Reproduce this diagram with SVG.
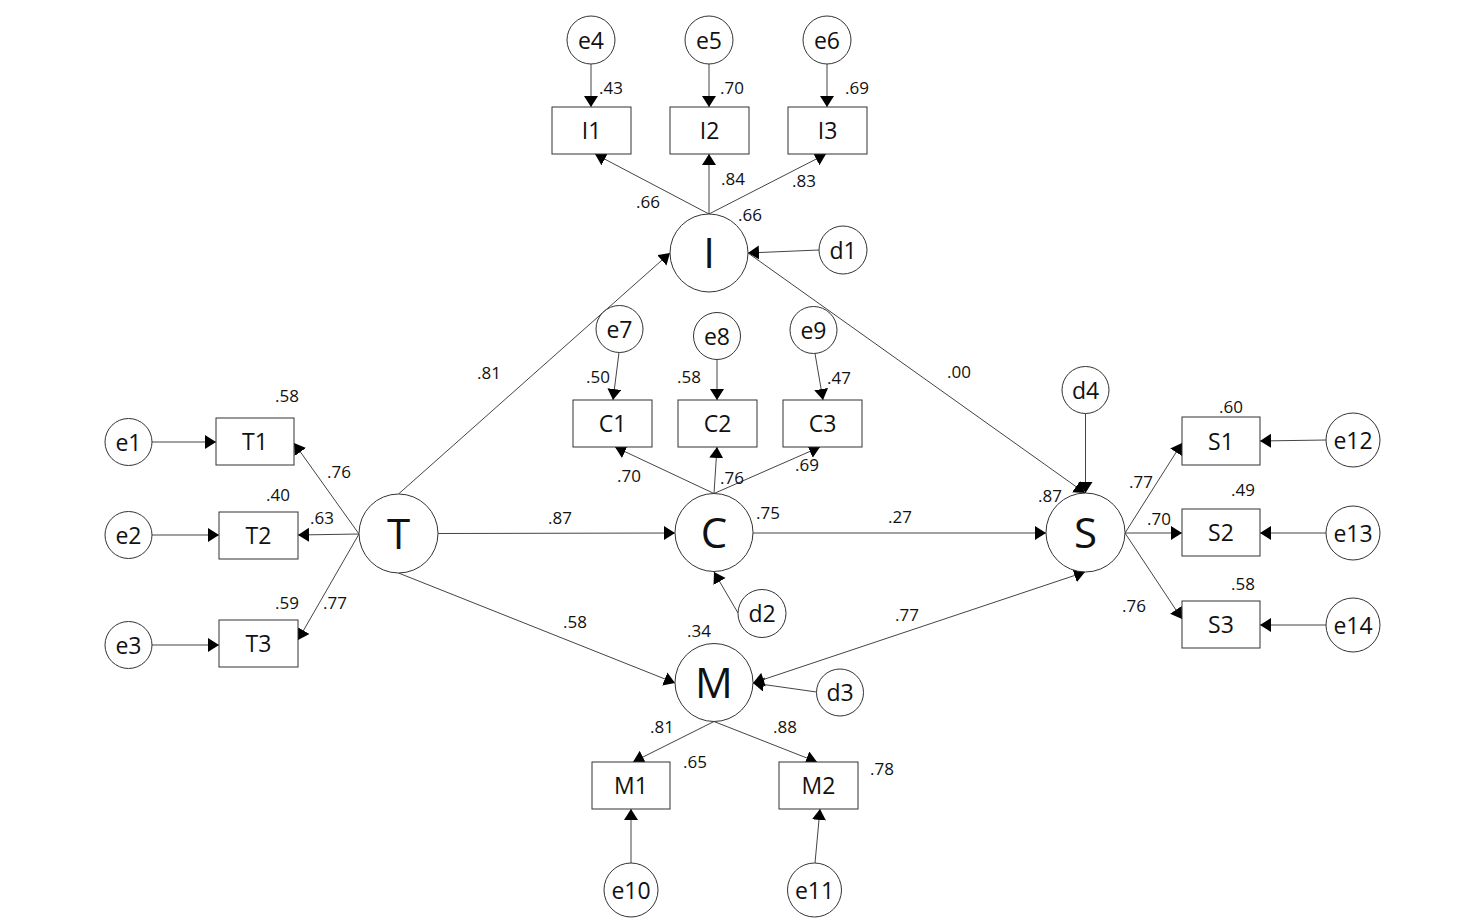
<svg xmlns="http://www.w3.org/2000/svg" width="1462" height="924" viewBox="0 0 1462 924">
<style>
.n circle,.n rect{fill:#fff;stroke:#333;stroke-width:1}
.n text{font-family:"Open Sans","Noto Sans",sans-serif;font-size:23px;fill:#111;text-anchor:middle}
.n text.big{font-size:42px}
#connectors line{stroke:#444;stroke-width:1;fill:none}
.lb{font-family:"Open Sans","Noto Sans",sans-serif;font-size:17px;fill:#111}
</style>
<defs>
<marker id="ah" markerUnits="userSpaceOnUse" markerWidth="12" markerHeight="15" refX="11" refY="7" orient="auto">
<path d="M0,0 L11,7 L0,14 z" fill="#000"/>
</marker>
<marker id="as" markerUnits="userSpaceOnUse" markerWidth="12" markerHeight="15" refX="0" refY="7" orient="auto">
<path d="M11,0 L0,7 L11,14 z" fill="#000"/>
</marker>
</defs>
<rect width="1462" height="924" fill="#fff"/>
<g id="connectors" marker-end="url(#ah)">
<line x1="591" y1="64" x2="591" y2="107"/>
<line x1="709" y1="64" x2="709" y2="107"/>
<line x1="827" y1="64" x2="827" y2="107"/>
<line x1="709" y1="214" x2="595" y2="154"/>
<line x1="709" y1="214" x2="709" y2="154"/>
<line x1="709" y1="214" x2="826" y2="154"/>
<line x1="819" y1="250" x2="748" y2="253"/>
<line x1="398.5" y1="494" x2="670" y2="253"/>
<line x1="748" y1="253" x2="1085" y2="493"/>
<line x1="619" y1="352.5" x2="613" y2="400"/>
<line x1="717" y1="359.5" x2="717" y2="400"/>
<line x1="815" y1="353.5" x2="823" y2="400"/>
<line x1="714" y1="493.5" x2="615" y2="447"/>
<line x1="714" y1="493.5" x2="717" y2="447"/>
<line x1="714" y1="493.5" x2="820" y2="447"/>
<line x1="738" y1="613" x2="714" y2="572"/>
<line x1="438" y1="533.5" x2="675" y2="533"/>
<line x1="753" y1="533" x2="1046" y2="533"/>
<line x1="398.5" y1="573" x2="675" y2="683"/>
<line x1="816.5" y1="692" x2="753" y2="683"/>
<line x1="753" y1="683" x2="1085" y2="572" marker-start="url(#as)"/>
<line x1="1085.5" y1="413.5" x2="1085.5" y2="493"/>
<line x1="359" y1="534" x2="294" y2="443"/>
<line x1="359" y1="534" x2="298" y2="535"/>
<line x1="359" y1="534" x2="298" y2="640"/>
<line x1="152" y1="442" x2="216" y2="442"/>
<line x1="152" y1="535" x2="219" y2="535"/>
<line x1="152" y1="645" x2="219" y2="645"/>
<line x1="1125" y1="533" x2="1182" y2="443"/>
<line x1="1125" y1="533" x2="1182" y2="533"/>
<line x1="1125" y1="533" x2="1182" y2="619"/>
<line x1="1326" y1="440" x2="1260" y2="441"/>
<line x1="1326" y1="533" x2="1260" y2="533"/>
<line x1="1326" y1="625" x2="1260" y2="625"/>
<line x1="714" y1="721.5" x2="633" y2="762"/>
<line x1="714" y1="721.5" x2="817" y2="762"/>
<line x1="631" y1="863" x2="631" y2="809"/>
<line x1="815" y1="863" x2="820" y2="809"/>
</g>
<g class="n" id="e4"><circle cx="591" cy="40" r="24"/><text x="591" y="48.5">e4</text></g>
<g class="n" id="e5"><circle cx="709" cy="40" r="24"/><text x="709" y="48.5">e5</text></g>
<g class="n" id="e6"><circle cx="827" cy="40" r="24"/><text x="827" y="48.5">e6</text></g>
<g class="n" id="I1"><rect x="552" y="107" width="79" height="47"/><text x="591.5" y="139">I1</text></g>
<g class="n" id="I2"><rect x="670" y="107" width="79" height="47"/><text x="709.5" y="139">I2</text></g>
<g class="n" id="I3"><rect x="788" y="107" width="79" height="47"/><text x="827.5" y="139">I3</text></g>
<g class="n" id="I"><circle cx="709" cy="253" r="39"/><text class="big" x="709" y="268">I</text></g>
<g class="n" id="d1"><circle cx="843" cy="250" r="24"/><text x="843" y="258.5">d1</text></g>
<g class="n" id="e7"><circle cx="619.5" cy="329" r="23.5"/><text x="619.5" y="337.5">e7</text></g>
<g class="n" id="e8"><circle cx="717" cy="336" r="23.5"/><text x="717" y="344.5">e8</text></g>
<g class="n" id="e9"><circle cx="813.5" cy="330" r="23.5"/><text x="813.5" y="338.5">e9</text></g>
<g class="n" id="C1"><rect x="573" y="400" width="79" height="47"/><text x="612.5" y="432">C1</text></g>
<g class="n" id="C2"><rect x="678" y="400" width="79" height="47"/><text x="717.5" y="432">C2</text></g>
<g class="n" id="C3"><rect x="783" y="400" width="79" height="47"/><text x="822.5" y="432">C3</text></g>
<g class="n" id="C"><circle cx="714" cy="532.5" r="39"/><text class="big" x="714" y="548">C</text></g>
<g class="n" id="d2"><circle cx="762" cy="613.5" r="24"/><text x="762" y="622">d2</text></g>
<g class="n" id="T"><circle cx="398.5" cy="533.5" r="39.5"/><text class="big" x="398.5" y="548.5">T</text></g>
<g class="n" id="T1"><rect x="216" y="418" width="78" height="47"/><text x="255" y="450">T1</text></g>
<g class="n" id="T2"><rect x="219" y="512" width="79" height="47"/><text x="258.5" y="544">T2</text></g>
<g class="n" id="T3"><rect x="219" y="620" width="79" height="47"/><text x="258.5" y="652">T3</text></g>
<g class="n" id="e1"><circle cx="128.5" cy="442" r="23.5"/><text x="128.5" y="450.5">e1</text></g>
<g class="n" id="e2"><circle cx="128.5" cy="535" r="23.5"/><text x="128.5" y="543.5">e2</text></g>
<g class="n" id="e3"><circle cx="128.5" cy="645" r="23.5"/><text x="128.5" y="653.5">e3</text></g>
<g class="n" id="M"><circle cx="714" cy="682.5" r="39"/><text class="big" x="714" y="698">M</text></g>
<g class="n" id="d3"><circle cx="840" cy="692.5" r="23.5"/><text x="840" y="701">d3</text></g>
<g class="n" id="M1"><rect x="592" y="762" width="78" height="47"/><text x="631" y="794">M1</text></g>
<g class="n" id="M2"><rect x="779" y="762" width="79" height="47"/><text x="818.5" y="794">M2</text></g>
<g class="n" id="e10"><circle cx="631" cy="890" r="27"/><text x="631" y="898.5">e10</text></g>
<g class="n" id="e11"><circle cx="814.5" cy="890" r="27"/><text x="814.5" y="898.5">e11</text></g>
<g class="n" id="S"><circle cx="1085.5" cy="532.5" r="39.5"/><text class="big" x="1085.5" y="548">S</text></g>
<g class="n" id="d4"><circle cx="1085.5" cy="390" r="23.5"/><text x="1085.5" y="398.5">d4</text></g>
<g class="n" id="S1"><rect x="1182" y="417" width="78" height="48"/><text x="1221" y="449.5">S1</text></g>
<g class="n" id="S2"><rect x="1182" y="509" width="78" height="47"/><text x="1221" y="541">S2</text></g>
<g class="n" id="S3"><rect x="1182" y="601" width="78" height="47"/><text x="1221" y="633">S3</text></g>
<g class="n" id="e12"><circle cx="1353" cy="440" r="27"/><text x="1353" y="448.5">e12</text></g>
<g class="n" id="e13"><circle cx="1353" cy="533" r="27"/><text x="1353" y="541.5">e13</text></g>
<g class="n" id="e14"><circle cx="1353" cy="625" r="27"/><text x="1353" y="633.5">e14</text></g>
<g id="labels" class="lb">
<text x="599" y="94">.43</text>
<text x="720" y="94">.70</text>
<text x="845" y="94">.69</text>
<text x="721" y="185">.84</text>
<text x="792" y="187">.83</text>
<text x="636" y="208">.66</text>
<text x="738" y="221">.66</text>
<text x="477" y="379">.81</text>
<text x="548" y="524">.87</text>
<text x="563" y="628">.58</text>
<text x="947" y="378">.00</text>
<text x="888" y="523">.27</text>
<text x="895" y="621">.77</text>
<text x="1038" y="502">.87</text>
<text x="586" y="383">.50</text>
<text x="677" y="383">.58</text>
<text x="827" y="384">.47</text>
<text x="617" y="482">.70</text>
<text x="720" y="484">.76</text>
<text x="795" y="471">.69</text>
<text x="756" y="519">.75</text>
<text x="275" y="402">.58</text>
<text x="327" y="478">.76</text>
<text x="266" y="501">.40</text>
<text x="310" y="524">.63</text>
<text x="275" y="609">.59</text>
<text x="323" y="609">.77</text>
<text x="1219" y="413">.60</text>
<text x="1129" y="488">.77</text>
<text x="1231" y="496">.49</text>
<text x="1147" y="525">.70</text>
<text x="1231" y="590">.58</text>
<text x="1122" y="612">.76</text>
<text x="687" y="637">.34</text>
<text x="650" y="733">.81</text>
<text x="773" y="733">.88</text>
<text x="683" y="768">.65</text>
<text x="870" y="775">.78</text>
</g>
</svg>
